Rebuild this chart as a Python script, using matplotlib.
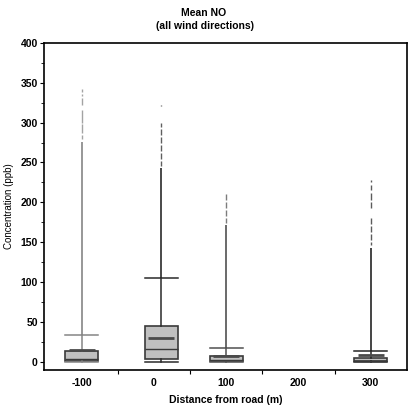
import matplotlib
matplotlib.use("Agg")
import matplotlib.pyplot as plt
from matplotlib.ticker import MultipleLocator, FixedLocator

plt.rcParams['font.family'] = ['Liberation Sans', 'DejaVu Sans']

# ---- data ----
groups = [-100, 0, 100, 300]            # distance from road (m)
group_pos = [-100, 10, 100, 300]        # plotted x position of each box
q1 = [0.5, 3.0, 0.3, 0.3]
median = [3.4, 15.6, 1.5, 1.0]
q3 = [13.5, 45.0, 7.0, 5.0]
mean = [14.0, 30.0, 7.5, 8.4]
whisk_lo = [0.0, 0.0, 0.0, 0.0]
whisk_hi = [34.0, 105.0, 17.6, 13.4]
dense_top = [276.0, 243.0, 172.0, 143.0]   # outliers form a continuous line up to here
sparse_outliers = [
    [(279, 285), (287, 298), (300, 316), (321.6, 331), (333.5, 335.5), (338, 342)],
    [(245, 252), (255, 262), (265, 272), (275, 282), (284, 292), (294, 300), (321, 322.5)],
    [(174, 180), (183, 190), (193, 200), (203, 211)],
    [(146, 150), (153, 160), (163, 170), (173, 180), (193, 200), (203, 212), (215, 222), (225, 228.5)],
]
xtick_vals = [-100, 0, 100, 200, 300]
xtick_labels = ['-100', '0', '100', '200', '300']

# ---- figure ----
fig = plt.figure(figsize=(4.13, 4.07), dpi=100)
ax = fig.add_axes([44/413, 37/407, 363/413, 327/407])

line_cols = ['#858585', '#2a2a2a', '#505050', '#252525']
edge = '#3a3a3a'
for i in range(len(groups)):
    st = [dict(med=median[i], q1=q1[i], q3=q3[i], whislo=whisk_lo[i],
               whishi=whisk_hi[i], mean=mean[i], fliers=[])]
    wc = line_cols[i]
    ax.bxp(st, positions=[group_pos[i]], widths=46, patch_artist=True,
           showmeans=False, showfliers=False,
           boxprops=dict(facecolor='#c0c0c0', edgecolor=edge, linewidth=1.2),
           medianprops=dict(color=edge, linewidth=1.0),
           whiskerprops=dict(color=wc, linewidth=1.1),
           capprops=dict(color=wc, linewidth=1.1),
           capwidths=46)

for i, x in enumerate(group_pos):
    # mean line (inset, thicker)
    ax.hlines(mean[i], x - 18, x + 18, color='#4a4a4a', linewidth=2.0, zorder=4)
    # dense outliers appear as a continuous line
    ax.vlines(x, whisk_hi[i], dense_top[i], color=line_cols[i], linewidth=1.2, zorder=3)
    for lo, hi in sparse_outliers[i]:
        ax.vlines(x, lo, hi, color=line_cols[i], linewidth=1.0, alpha=0.75, zorder=3)

ax.set_xlim(-152, 350)
ax.set_ylim(-10.5, 400)
ax.xaxis.set_major_locator(FixedLocator(xtick_vals))
ax.set_xticklabels(xtick_labels)
ax.xaxis.set_minor_locator(FixedLocator([-50, 50, 150, 250]))
ax.tick_params(axis='x', which='major', length=0, pad=6)
ax.tick_params(axis='x', which='minor', length=3, width=0.8, direction='out')
ax.yaxis.set_major_locator(MultipleLocator(50))
ax.yaxis.set_minor_locator(MultipleLocator(25))
ax.tick_params(axis='y', which='major', length=3, width=0.8, direction='out', pad=1.5)
ax.tick_params(axis='y', which='minor', length=2, width=0.6, direction='out')
for lab in ax.get_xticklabels() + ax.get_yticklabels():
    lab.set_fontsize(7.5)
    lab.set_fontweight('bold')
for sp in ax.spines.values():
    sp.set_linewidth(1.2)
    sp.set_color('black')

ax.set_xlabel('Distance from road (m)', fontsize=7.5, fontweight='bold', labelpad=5)
ax.set_ylabel('Concentration (ppb)', fontsize=7, labelpad=5)

fig.text(0.493, 0.967, 'Mean NO', ha='center', va='center', fontsize=7.5, fontweight='bold')
fig.text(0.497, 0.937, '(all wind directions)', ha='center', va='center', fontsize=7.5,
         fontweight='bold')

fig.savefig('out.png', dpi=100)
